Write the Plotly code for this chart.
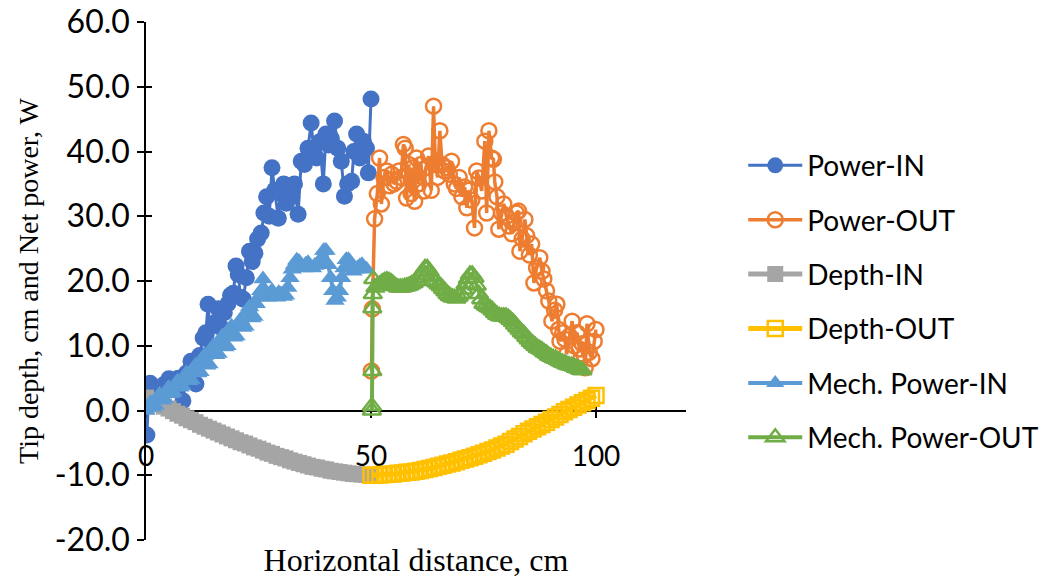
import plotly.graph_objects as go

# ---------------- data ----------------
power_in_x = [0.2, 0.5, 0.9, 2.0, 3.0, 4.0, 5.1, 6.2, 7.2, 8.2, 9.0, 10.0, 11.1, 11.9, 12.7, 13.3,
              13.8, 14.5, 15.2, 16.0, 16.7, 17.4, 18.2, 18.8, 19.4, 20.0, 20.5, 21.0, 21.6, 22.3,
              23.0, 23.6, 24.2, 24.8, 25.6, 26.2, 26.8, 27.4, 28.0, 28.6, 29.4, 30.0, 30.6, 31.2,
              31.8, 32.4, 33.0, 33.8, 34.5, 35.2, 36.0, 36.7, 37.3, 37.9, 38.6, 39.4, 40.0, 40.6,
              41.2, 41.9, 42.6, 43.4, 44.1, 44.8, 45.7, 46.2, 46.8, 47.5, 48.3, 49.0, 49.4, 50.0]
power_in_y = [-3.8, 1.0, 4.2, 3.0, 2.2, 4.0, 4.9, 3.2, 5.0, 1.5, 5.8, 7.6, 4.1, 8.5, 11.2, 12.0,
              16.4, 9.2, 13.5, 15.7, 12.8, 15.1, 16.5, 17.8, 18.1, 22.3, 21.0, 17.5, 17.2, 20.5,
              24.6, 23.0, 24.3, 26.5, 27.4, 30.5, 33.0, 30.0, 37.5, 34.0, 29.7, 33.5, 35.0, 32.0,
              34.5, 33.0, 35.0, 30.3, 38.5, 38.0, 40.5, 44.4, 40.0, 39.0, 41.5, 35.0, 42.7, 41.0,
              42.0, 44.7, 40.5, 38.5, 33.1, 35.0, 35.4, 40.0, 42.7, 39.0, 41.6, 40.5, 36.7, 48.1]

power_out_x = [50.1, 50.3, 50.8, 51.4, 51.9, 52.3, 52.9, 53.5, 54.1, 54.6, 55.1, 55.7, 56.2, 56.7,
               57.2, 57.6, 57.9, 58.4, 58.9, 59.3, 59.7, 60.1, 60.6, 61.1, 61.7, 62.2, 62.8, 63.4,
               63.9, 64.3, 64.8, 65.3, 65.8, 66.3, 66.8, 67.4, 67.9, 68.5, 69.0, 69.6, 70.2, 70.8,
               71.3, 71.8, 72.4, 73.0, 73.5, 74.0, 74.6, 75.3, 75.7, 76.2, 76.8, 77.2, 77.5, 78.0,
               78.4, 79.0, 79.5, 80.1, 80.7, 81.3, 81.8, 82.3, 82.8, 83.1, 83.6, 84.2, 84.6, 85.2,
               85.7, 86.2, 86.8, 87.5, 88.0, 88.4, 89.0, 89.5, 90.2, 90.8, 91.3, 91.7, 92.0, 92.6,
               93.1, 93.5, 94.1, 94.7, 95.2, 95.8, 96.3, 96.9, 97.4, 97.6, 98.0, 98.5, 99.1, 99.6,
               100.0]
power_out_y = [6.1, 15.7, 29.6, 33.5, 39.0, 31.9, 36.0, 37.0, 34.7, 36.5, 35.0, 35.4, 37.0, 36.0,
               41.1, 40.5, 32.8, 38.0, 33.5, 37.5, 32.3, 39.0, 35.0, 38.0, 33.9, 37.5, 39.3, 34.0,
               47.0, 38.0, 36.0, 43.2, 38.0, 37.0, 37.5, 36.5, 38.5, 35.0, 34.3, 36.0, 33.0, 34.5,
               31.3, 34.0, 32.5, 28.2, 37.0, 35.9, 33.9, 41.6, 30.5, 43.2, 39.0, 38.8, 35.3, 33.0,
               28.0, 30.5, 31.9, 30.0, 28.5, 27.3, 29.0, 30.5, 30.8, 24.6, 26.5, 29.5, 27.0, 24.0,
               25.7, 19.7, 22.0, 23.6, 21.5, 20.3, 18.5, 16.9, 13.8, 15.5, 16.4, 12.5, 10.7, 12.0,
               11.0, 8.7, 11.5, 13.8, 10.0, 12.0, 9.5, 10.3, 8.5, 6.6, 13.4, 9.0, 8.0, 10.7,
               12.5]

depth_in_x = list(range(0, 51))
depth_in_y = [2.0, 1.6, 1.3, 0.9, 0.6, 0.3, -0.1, -0.5, -0.8, -1.2, -1.5, -1.8, -2.2, -2.5, -2.8,
              -3.1, -3.4, -3.7, -4.0, -4.3, -4.6, -4.9, -5.1, -5.4, -5.7, -5.9, -6.2, -6.5, -6.7,
              -7.0, -7.2, -7.4, -7.7, -7.9, -8.1, -8.3, -8.5, -8.7, -8.8, -9.0, -9.1, -9.3, -9.4,
              -9.5, -9.6, -9.7, -9.8, -9.85, -9.9, -9.95, -10.0]

depth_out_x = list(range(50, 101))
depth_out_y = [-10.0, -10.0, -9.95, -9.9, -9.85, -9.8, -9.7, -9.65, -9.55, -9.5, -9.4, -9.25, -9.1,
               -8.95, -8.8, -8.6, -8.45, -8.25, -8.1, -7.9, -7.7, -7.5, -7.3, -7.05, -6.85, -6.6,
               -6.35, -6.1, -5.8, -5.5, -5.2, -4.8, -4.4, -4.0, -3.6, -3.2, -2.85, -2.5, -2.15,
               -1.8, -1.4, -1.0, -0.6, -0.2, 0.15, 0.5, 0.85, 1.2, 1.55, 1.9, 2.3]

mech_in_x = [i * 0.5 for i in range(99)]
mech_in_y = [0.0, 0.6, 1.2, 0.5, 0.8, 1.8, 2.5, 1.6, 1.8, 2.9, 3.5, 2.6, 2.8, 4.0, 4.5, 3.6,
             3.8, 5.2, 5.8, 4.6, 4.8, 6.4, 7.0, 5.8, 6.0, 7.8, 8.5, 7.0, 7.2, 9.3, 10.0, 8.6,
             8.8, 10.8, 11.5, 9.8, 10.0, 12.3, 13.0, 11.3, 11.5, 13.3, 14.0, 12.8, 13.0, 15.2,
             16.0, 14.3, 14.5, 16.5, 17.5, 18.5, 20.3, 18.5, 17.5, 18.0, 18.5, 17.8, 17.5, 18.2,
             18.0, 17.6, 17.8, 19.0, 20.5, 21.8, 22.5, 23.2, 23.0, 22.2, 22.0, 22.6, 22.8, 22.3,
             22.0, 22.4, 22.5, 23.0, 23.5, 24.7, 24.7, 22.5, 20.5, 18.5, 17.0, 17.5, 18.5, 20.5,
             22.0, 23.3, 23.3, 22.3, 21.5, 21.8, 22.0, 22.3, 22.5, 22.0, 21.8]

mech_out_x = [50.2, 50.2, 50.3, 50.3, 50.4, 50.5] + [51 + i * 0.5 for i in range(93)]
mech_out_y = [0.0, 0.7, 6.1, 15.8, 18.0, 20.3,
              19.0, 19.3, 19.5, 19.8, 20.0, 20.1, 20.0, 19.8, 19.5, 19.2, 19.0, 19.0, 19.0, 19.1,
              19.2, 19.3, 19.5, 19.7, 20.0, 20.5, 21.0, 21.5, 22.0, 22.0, 21.5, 20.8, 20.0, 19.8,
              19.5, 19.2, 18.8, 18.4, 18.0, 17.7, 17.5, 17.4, 17.3, 17.6, 18.0, 18.7, 19.5, 20.3,
              21.0, 21.0, 20.5, 19.3, 18.0, 17.2, 16.5, 16.2, 16.0, 15.8, 15.5, 15.1, 14.8, 14.6,
              14.5, 14.5, 14.5, 14.3, 14.0, 13.7, 13.3, 12.9, 12.5, 12.1, 11.8, 11.4, 11.0, 10.6,
              10.3, 10.0, 9.7, 9.5, 9.3, 9.0, 8.8, 8.5, 8.3, 8.1, 8.0, 7.8, 7.6, 7.4, 7.3, 7.1,
              7.0, 6.9, 6.8, 6.6, 6.5, 6.3, 6.2]

x_ticks = [0, 50, 100]
x_ticklabels = ["0", "50", "100"]
y_ticks = [-20, -10, 0, 10, 20, 30, 40, 50, 60]
y_ticklabels = ["-20.0", "-10.0", "0.0", "10.0", "20.0", "30.0", "40.0", "50.0", "60.0"]

# ---------------- figure ----------------
SANS = "Lato, 'Liberation Sans', sans-serif"
SERIF = "'Liberation Serif', 'Times New Roman', serif"

fig = go.Figure()

def add(name, xs, ys, color, symbol, msize, lw=3, open_marker=False):
    marker = dict(symbol=symbol, size=msize, color=color)
    marker["line"] = dict(color=color, width=2.5 if open_marker else 0)
    fig.add_trace(go.Scatter(x=xs, y=ys, name=name, mode="lines+markers",
                             line=dict(color=color, width=lw), marker=marker,
                             legendgroup=name))

add("Power-IN", power_in_x, power_in_y, "#4472C4", "circle", 17, 3)
add("Power-OUT", power_out_x, power_out_y, "#ED7D31", "circle-open", 15, 3.5, True)
add("Depth-IN", depth_in_x, depth_in_y, "#A5A5A5", "square", 16, 5)
add("Depth-OUT", depth_out_x, depth_out_y, "#FFC000", "square-open", 15, 5, True)
add("Mech. Power-IN", mech_in_x, mech_in_y, "#5B9BD5", "triangle-up", 17, 4)
add("Mech. Power-OUT", mech_out_x, mech_out_y, "#70AD47", "triangle-up-open", 16, 4, True)

# helper traces so the overlay axes (crossing ticks) are drawn
fig.add_trace(go.Scatter(x=[None], y=[None], xaxis="x2", yaxis="y", showlegend=False, hoverinfo="skip"))
fig.add_trace(go.Scatter(x=[None], y=[None], xaxis="x3", yaxis="y2", showlegend=False, hoverinfo="skip"))

fig.update_layout(
    width=1049, height=578,
    paper_bgcolor="white", plot_bgcolor="white",
    margin=dict(l=146, r=363, t=22, b=38, autoexpand=False),
    showlegend=True,
    legend=dict(x=1.106, y=0.771, xanchor="left", yanchor="top",
                font=dict(family=SANS, size=28, color="black"),
                itemwidth=54, tracegroupgap=15, bgcolor="rgba(0,0,0,0)"),
    xaxis=dict(range=[0, 120], showline=False, showticklabels=False, ticks="", showgrid=False,
               zeroline=False,
               title=dict(text="Horizontal distance, cm",
                          font=dict(family=SERIF, size=32, color="black"), standoff=10)),
    xaxis2=dict(overlaying="x", anchor="free", position=0.25, range=[0, 120],
                tickmode="array", tickvals=x_ticks, ticktext=x_ticklabels,
                ticks="outside", ticklen=7, tickwidth=1.5, tickcolor="black",
                showline=True, linecolor="black", linewidth=1.5,
                tickfont=dict(family=SANS, size=28, color="black"), ticklabelstandoff=14,
                showgrid=False, zeroline=False, layer="below traces"),
    xaxis3=dict(overlaying="x", anchor="free", position=0.25, range=[0, 120],
                tickmode="array", tickvals=x_ticks, ticks="inside", ticklen=6, tickwidth=1.5,
                tickcolor="black", showticklabels=False, showline=False, showgrid=False,
                zeroline=False, layer="below traces"),
    yaxis=dict(range=[-20, 60], tickmode="array", tickvals=y_ticks, ticktext=y_ticklabels,
               ticks="outside", ticklen=7, tickwidth=1.5, tickcolor="black",
               showline=True, linecolor="black", linewidth=1.5,
               tickfont=dict(family=SANS, size=32, color="black"), ticklabelstandoff=1,
               ticklabeloverflow="allow",
               showgrid=False, zeroline=False, layer="below traces",
               title=dict(text="Tip depth, cm and Net power, W",
                          font=dict(family=SERIF, size=28, color="black"), standoff=8)),
    yaxis2=dict(overlaying="y", anchor="x", side="left", range=[-20, 60],
                tickmode="array", tickvals=y_ticks, ticks="inside", ticklen=6, tickwidth=1.5,
                tickcolor="black", showticklabels=False, showline=False, showgrid=False,
                zeroline=False, layer="below traces"),
)

# remove the default 8px page margin so the figure sits at the window's top-left corner
fig.write_html("out.html", config={"displayModeBar": False},
               post_script="document.body.style.margin='0px';")
